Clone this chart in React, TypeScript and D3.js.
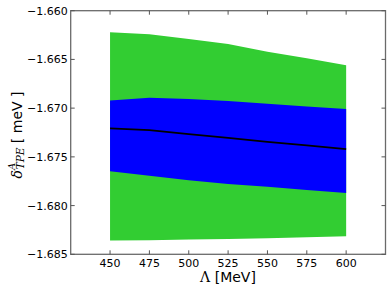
import React, { useEffect, useRef } from 'react';
import * as d3 from 'd3';

// cutoff values Λ [MeV]
const lambdas = [450, 475, 500, 525, 550, 575, 600];

// outer (green) band
const greenHi = [-1.66222, -1.66242, -1.66291, -1.66342, -1.66421, -1.66489, -1.66561];
const greenLo = [-1.68359, -1.68356, -1.68349, -1.68343, -1.68335, -1.68325, -1.68315];

// inner (blue) band
const blueHi = [-1.66921, -1.66894, -1.66907, -1.66928, -1.66955, -1.66982, -1.6701];
const blueLo = [-1.67647, -1.67695, -1.67739, -1.67778, -1.67808, -1.67839, -1.6787];

// central value
const central = [-1.67208, -1.67226, -1.67267, -1.67305, -1.67346, -1.67383, -1.67421];

const xTicks = [450, 475, 500, 525, 550, 575, 600];
const yTicks = [-1.685, -1.68, -1.675, -1.67, -1.665, -1.66];

const App: React.FC = () => {
  const svgRef = useRef<SVGSVGElement>(null);

  useEffect(() => {
    if (!svgRef.current) return;

    const W = 391;
    const H = 292;
    const margin = { top: 10.7, right: 5.5, bottom: 37.7, left: 70.7 };
    const width = W - margin.left - margin.right;
    const height = H - margin.top - margin.bottom;

    const svg = d3.select(svgRef.current);
    svg.selectAll('*').remove();
    svg.attr('width', W).attr('height', H);

    const g = svg.append('g').attr('transform', `translate(${margin.left},${margin.top})`);

    const x = d3.scaleLinear().domain([425, 625]).range([0, width]);
    const y = d3.scaleLinear().domain([-1.685, -1.66]).range([height, 0]);

    const idx = d3.range(lambdas.length);

    const band = (lo: number[], hi: number[]) =>
      d3
        .area<number>()
        .x(i => x(lambdas[i]))
        .y0(i => y(lo[i]))
        .y1(i => y(hi[i]));

    g.append('path').datum(idx).attr('fill', '#32cd32').attr('d', band(greenLo, greenHi));
    g.append('path').datum(idx).attr('fill', '#0000ff').attr('d', band(blueLo, blueHi));

    const line = d3
      .line<number>()
      .x(i => x(lambdas[i]))
      .y(i => y(central[i]));

    g.append('path')
      .datum(idx)
      .attr('fill', 'none')
      .attr('stroke', '#000')
      .attr('stroke-width', 1.8)
      .attr('d', line);

    // frame
    g.append('rect')
      .attr('width', width)
      .attr('height', height)
      .attr('fill', 'none')
      .attr('stroke', '#6a6a6a')
      .attr('stroke-width', 1.3);

    // inward ticks on all four sides
    const tickLen = 4;
    const tickColor = '#555';
    xTicks.forEach(t => {
      g.append('line')
        .attr('x1', x(t)).attr('x2', x(t))
        .attr('y1', height).attr('y2', height - tickLen)
        .attr('stroke', tickColor);
      g.append('line')
        .attr('x1', x(t)).attr('x2', x(t))
        .attr('y1', 0).attr('y2', tickLen)
        .attr('stroke', tickColor);
      g.append('text')
        .attr('x', x(t))
        .attr('y', height + 12.5)
        .attr('text-anchor', 'middle')
        .attr('font-family', 'DejaVu Sans')
        .attr('font-size', 11)
        .text(String(t));
    });

    const fmt = d3.format('.3f');
    yTicks.forEach(t => {
      g.append('line')
        .attr('x1', 0).attr('x2', tickLen)
        .attr('y1', y(t)).attr('y2', y(t))
        .attr('stroke', tickColor);
      g.append('line')
        .attr('x1', width).attr('x2', width - tickLen)
        .attr('y1', y(t)).attr('y2', y(t))
        .attr('stroke', tickColor);
      g.append('text')
        .attr('x', -3)
        .attr('y', y(t))
        .attr('dy', '0.36em')
        .attr('text-anchor', 'end')
        .attr('font-family', 'DejaVu Sans')
        .attr('font-size', 11)
        .text(fmt(t));
    });

    // x label
    const xl = svg
      .append('text')
      .attr('x', 228)
      .attr('y', 282)
      .attr('text-anchor', 'middle')
      .attr('font-family', 'DejaVu Sans')
      .attr('font-size', 14);
    xl.append('tspan').attr('font-family', 'DejaVu Serif').text('Λ');
    xl.append('tspan').text(' [MeV]');

    // y label
    const yl = svg
      .append('text')
      .attr('transform', 'translate(21.5,135) rotate(-90)')
      .attr('text-anchor', 'middle')
      .attr('font-family', 'DejaVu Sans')
      .attr('font-size', 14);
    yl.append('tspan').attr('font-family', 'DejaVu Serif').attr('font-style', 'italic').text('δ');
    yl.append('tspan')
      .attr('font-family', 'DejaVu Serif')
      .attr('font-style', 'italic')
      .attr('font-size', 10)
      .attr('dy', -6.5)
      .text('A');
    yl.append('tspan')
      .attr('font-family', 'DejaVu Serif')
      .attr('font-style', 'italic')
      .attr('font-size', 10.5)
      .attr('dx', -6.5)
      .attr('dy', 9)
      .text('TPE');
    yl.append('tspan').attr('dy', -2.5).text(' [ meV ]');
  }, []);

  return <svg ref={svgRef} style={{ position: 'absolute', left: 0, top: 0 }}></svg>;
};

export default App;
